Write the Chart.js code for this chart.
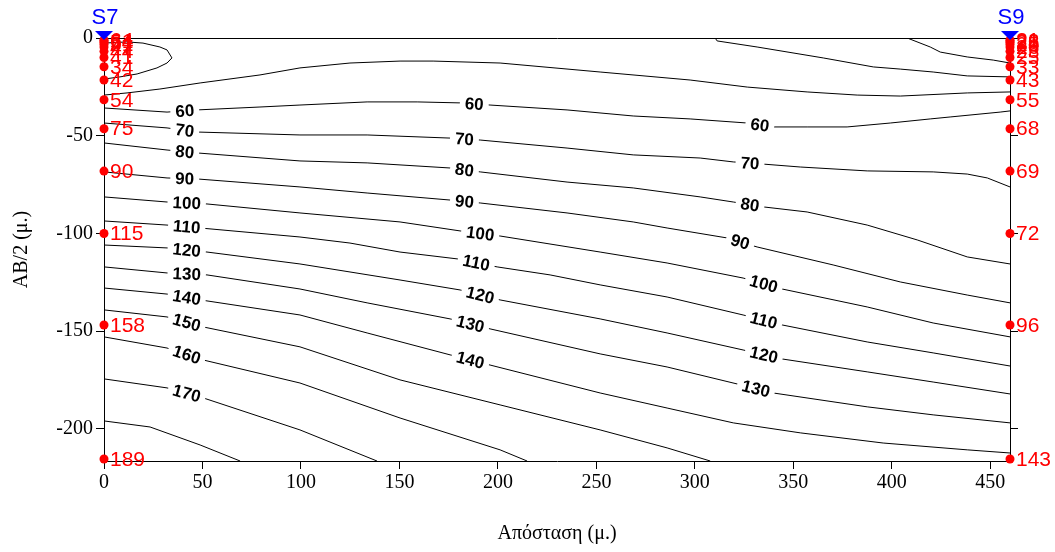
<!DOCTYPE html>
<html lang="el">
<head>
<meta charset="UTF-8">
<title>AB/2 - Απόσταση</title>
<script src="https://cdn.jsdelivr.net/npm/chart.js"></script>
<style>
  html, body { margin: 0; padding: 0; background: #fff; }
</style>
</head>
<body>
<canvas id="chart" width="1055" height="552"></canvas>
<script>
// stations (soundings) along the profile
const stationNames = ['S7', 'S9'];
const stationX = [0, 460];
const ab2Depths = [-1, -1.47, -2.15, -3.16, -4.64, -6.81, -10, -14.7, -21.5, -31.6, -46.4, -68.1, -100, -146.8, -215.4];
const rhoS7 = [64, 61, 54, 51, 47, 44, 41, 34, 42, 54, 75, 90, 115, 158, 189];
const rhoS9 = [21, 26, 28, 25, 26, 23, 25, 33, 43, 55, 68, 69, 72, 96, 143];

const xTicks = [0, 50, 100, 150, 200, 250, 300, 350, 400, 450];
const yTicks = [0, -50, -100, -150, -200];

// contour lines, [distance, -AB/2]
const c30 = [[407.8, 0], [419.5, -4.6], [424.6, -7.2], [438.3, -9.7], [451.5, -11.3], [460, -12.8]];
const c40a = [[0, -2.6], [11.7, -2], [19.8, -2.6], [28.4, -4.6], [32, -6.1], [34.5, -10.2], [32, -12.8], [26.9, -15.3], [16.8, -18.4], [8.1, -19.9], [0, -21]];
const c40b = [[310.3, 0], [311.3, -1.5], [331.6, -4.6], [365.2, -10.2], [390.6, -14.8], [404.3, -15.9], [421, -17.4], [438.3, -19.4], [460, -19.9]];
const c50 = [[0, -29.2], [11.7, -28.1], [28.4, -26.1], [48.8, -23], [79.2, -18.9], [99.5, -15.3], [124.9, -12.8], [150.3, -11.8], [167.1, -11.8], [201.1, -12.8], [251.9, -17.4], [297.6, -21.5], [326.6, -25.1], [357, -27.6], [382.4, -29.2], [404.3, -29.7], [438.3, -28.1], [460, -27.6]];
const c60 = [[0, -35.8], [32, -37.9], [47.2, -36.8], [79.2, -35.3], [99.5, -34.3], [133.6, -32.7], [159, -32.7], [180.8, -33.2], [196, -34.3], [235.1, -36.8], [268.7, -39.9], [297.6, -41.4], [326.6, -43.5], [339.8, -45.5], [357, -45.5], [377.3, -45.5], [399.2, -43.5], [419.5, -41.4], [429.6, -40.4], [455, -37.9], [460, -37.3]];
const c70 = [[0, -43.5], [32, -46], [47.2, -48.1], [99.5, -49.6], [133.6, -49.6], [175.7, -51.2], [191, -52.2], [235.1, -56.3], [268.7, -59.8], [302.7, -61.4], [319.5, -63.4], [334.7, -64.5], [353.5, -66], [387.5, -68], [421, -68.5], [438.3, -69.6], [448.5, -71.6], [460, -76.2]];
const c80 = [[0, -53.7], [32, -57.3], [47.2, -58.8], [99.5, -62.9], [133.6, -63.9], [175.7, -66.5], [191, -68.5], [235.1, -73.7], [268.7, -76.7], [302.7, -81.3], [319.5, -83.9], [334.7, -86.4], [357, -89], [387.5, -95.7], [412.9, -103.3], [438.3, -112], [460, -115.6]];
const c90 = [[0, -68.5], [32, -71.6], [47.2, -72.1], [99.5, -76.2], [133.6, -79.3], [175.7, -82.9], [191, -84.4], [235.1, -89.5], [268.7, -94.1], [285.9, -97.2], [316.4, -102.3], [331.6, -106.9], [370.2, -116.1], [404.3, -124.8], [438.3, -131.5], [460, -135.5]];
const c100 = [[0, -81.3], [32, -83.9], [52.3, -84.9], [99.5, -89.5], [150.3, -94.1], [180.8, -98.7], [201.1, -101.3], [251.9, -109.5], [285.9, -115.1], [324.5, -122.8], [344.3, -128.4], [387.5, -137.6], [421, -145.8], [460, -152.9]];
const c110 = [[0, -93.6], [32, -95.7], [48.8, -97.2], [99.5, -101.8], [124.9, -104.9], [150.3, -109.5], [179.3, -113], [199.6, -117.1], [226.5, -121.2], [251.9, -126.3], [285.9, -132.5], [324.5, -141.7], [344.3, -146.8], [387.5, -155.5], [421, -161.1], [460, -167.8]];
const c120 = [[0, -105.9], [32, -107.4], [52.3, -109.5], [99.5, -115.6], [150.3, -123.8], [180.8, -128.9], [201.1, -134], [251.9, -143.7], [285.9, -150.9], [324.5, -159.6], [344.3, -164.2], [387.5, -170.8], [421, -176], [460, -182.1]];
const c130 = [[0, -117.1], [32, -120.2], [52.3, -121.2], [99.5, -128.4], [133.6, -135.5], [175.7, -143.7], [196, -148.8], [251.9, -161.6], [285.9, -168.3], [321.5, -177], [339.8, -181.6], [387.5, -188.7], [421, -192.8], [460, -196.9]];
const c140 = [[0, -127.9], [32, -131], [52.3, -134.5], [99.5, -141.7], [133.6, -150.9], [175.7, -162.1], [196, -167.3], [251.9, -181.6], [285.9, -189.3], [319.5, -196.9], [353.5, -202], [395.6, -207.2], [438.3, -210.7], [460, -212.3]];
const c150 = [[0, -139.1], [32, -142.7], [50.3, -147.8], [99.5, -158], [150.3, -174.9], [201.1, -187.7], [251.9, -200.5], [285.9, -209.7], [307.8, -216.4]];
const c160 = [[0, -152.9], [32, -158.6], [50.3, -164.7], [99.5, -176.5], [150.3, -194.4], [201.1, -210.7], [214.8, -216.4]];
const c170 = [[0, -174.4], [32, -179], [50.3, -184.1], [99.5, -200.5], [138.6, -216.4]];
const c180 = [[0, -195.9], [23.4, -199], [48.8, -208.2], [69.1, -216.4]];

const contours = [
  { level: 30, pts: c30 }, { level: 40, pts: c40a }, { level: 40, pts: c40b },
  { level: 50, pts: c50 }, { level: 60, pts: c60 }, { level: 70, pts: c70 },
  { level: 80, pts: c80 }, { level: 90, pts: c90 }, { level: 100, pts: c100 },
  { level: 110, pts: c110 }, { level: 120, pts: c120 }, { level: 130, pts: c130 },
  { level: 140, pts: c140 }, { level: 150, pts: c150 }, { level: 160, pts: c160 },
  { level: 170, pts: c170 }, { level: 180, pts: c180 }
];

// where the level numbers sit on the lines: [level, distance]
const contourLabels = [
  [60, 41], [60, 188], [60, 333],
  [70, 41], [70, 183], [70, 328],
  [80, 41], [80, 183], [80, 328],
  [90, 41], [90, 183], [90, 323],
  [100, 42], [100, 191], [100, 335],
  [110, 42], [110, 189], [110, 335],
  [120, 42], [120, 191], [120, 335],
  [130, 42], [130, 186], [130, 331],
  [140, 42], [140, 186],
  [150, 42], [160, 42], [170, 42]
];

const serif = '"Liberation Serif", "Times New Roman", serif';
const sans = '"Liberation Sans", Arial, sans-serif';

const stationSets = stationX.map((sx, i) => ({
  label: stationNames[i],
  data: ab2Depths.map(d => ({ x: sx, y: d })),
  showLine: false,
  pointRadius: 4.5,
  pointBackgroundColor: '#ff0000',
  pointBorderWidth: 0,
  clip: false
}));

const contourSets = contours.map(c => ({
  label: String(c.level),
  data: c.pts.map(p => ({ x: p[0], y: p[1] })),
  showLine: true,
  borderColor: '#000',
  borderWidth: 1,
  pointRadius: 0,
  tension: 0
}));

const overlay = {
  id: 'overlay',
  afterDatasetsDraw(chart) {
    const { ctx, scales: { x, y } } = chart;
    ctx.save();
    ctx.font = 'bold 17px ' + sans;
    ctx.textAlign = 'center';
    ctx.textBaseline = 'middle';
    contourLabels.forEach(([lev, lx]) => {
      const line = contours.find(c => c.level === lev).pts;
      let i = 1;
      while (i < line.length - 1 && line[i][0] < lx) i++;
      const a = line[i - 1], b = line[i];
      const t = (lx - a[0]) / (b[0] - a[0]);
      const ly = a[1] + t * (b[1] - a[1]);
      const px = x.getPixelForValue(lx), py = y.getPixelForValue(ly);
      const ang = Math.atan2(y.getPixelForValue(b[1]) - y.getPixelForValue(a[1]),
                             x.getPixelForValue(b[0]) - x.getPixelForValue(a[0]));
      const txt = String(lev);
      const w = ctx.measureText(txt).width;
      ctx.save();
      ctx.translate(px, py);
      ctx.rotate(ang);
      ctx.fillStyle = '#fff';
      ctx.fillRect(-w / 2 - 5, -8, w + 10, 16);
      ctx.fillStyle = '#000';
      ctx.fillText(txt, 0, 1);
      ctx.restore();
    });
    ctx.restore();
  },
  afterDraw(chart) {
    const { ctx, scales: { x, y } } = chart;
    const top = chart.chartArea.top;
    ctx.save();
    // resistivity values beside each point
    ctx.font = '21px ' + sans;
    ctx.fillStyle = '#ff0000';
    ctx.textAlign = 'left';
    ctx.textBaseline = 'middle';
    [rhoS7, rhoS9].forEach((vals, s) => {
      const px = x.getPixelForValue(stationX[s]);
      vals.forEach((v, k) => {
        ctx.fillText(String(v), px + 6, y.getPixelForValue(ab2Depths[k]) + 1);
      });
    });
    // station markers
    stationX.forEach((sx, s) => {
      const px = x.getPixelForValue(sx);
      ctx.fillStyle = '#0000ff';
      ctx.beginPath();
      ctx.moveTo(px - 9, top - 7);
      ctx.lineTo(px + 9, top - 7);
      ctx.lineTo(px, top + 2);
      ctx.closePath();
      ctx.fill();
      ctx.font = '22px ' + sans;
      ctx.textAlign = 'center';
      ctx.fillText(stationNames[s], px + 1, top - 20);
    });
    ctx.restore();
  }
};

const axisLine = { display: true, color: '#000', width: 1 };

new Chart(document.getElementById('chart'), {
  type: 'scatter',
  data: { datasets: [...stationSets, ...contourSets] },
  options: {
    responsive: false,
    animation: false,
    events: [],
    layout: { padding: { left: 0, right: 45, top: 38, bottom: 0 } },
    plugins: { legend: { display: false }, tooltip: { enabled: false } },
    scales: {
      x: {
        type: 'linear', position: 'bottom', min: 0, max: 460,
        afterBuildTicks: s => { s.ticks = xTicks.map(v => ({ value: v })); },
        afterFit: s => { s.height = 91; },
        border: axisLine,
        grid: { drawOnChartArea: false, drawTicks: true, tickLength: 8, color: '#000' },
        ticks: { color: '#000', font: { family: serif, size: 20 }, padding: 2, maxRotation: 0 },
        title: { display: true, text: 'Απόσταση (μ.)', color: '#000', font: { family: serif, size: 20 }, padding: { top: 0, bottom: 6 } }
      },
      x2: {
        type: 'linear', position: 'top', min: 0, max: 460,
        afterFit: s => { s.height = 0; },
        border: axisLine,
        grid: { drawOnChartArea: false, drawTicks: false },
        ticks: { display: false }
      },
      y: {
        type: 'linear', position: 'left', min: -216.4, max: 0,
        afterBuildTicks: s => { s.ticks = yTicks.map(v => ({ value: v })); },
        afterFit: s => { s.width = 104; },
        border: axisLine,
        grid: { drawOnChartArea: false, drawTicks: true, tickLength: 8, color: '#000' },
        ticks: { color: '#000', font: { family: serif, size: 20 }, padding: 3 },
        title: { display: true, text: 'AB/2 (μ.)', color: '#000', font: { family: serif, size: 20 }, padding: { top: 10, bottom: 0 } }
      },
      y2: {
        type: 'linear', position: 'right', min: -216.4, max: 0,
        afterBuildTicks: s => { s.ticks = yTicks.map(v => ({ value: v })); },
        afterFit: s => { s.width = 0; },
        border: axisLine,
        grid: { drawOnChartArea: false, drawTicks: true, tickLength: 8, color: '#000' },
        ticks: { display: false }
      }
    }
  },
  plugins: [overlay]
});
</script>
</body>
</html>
